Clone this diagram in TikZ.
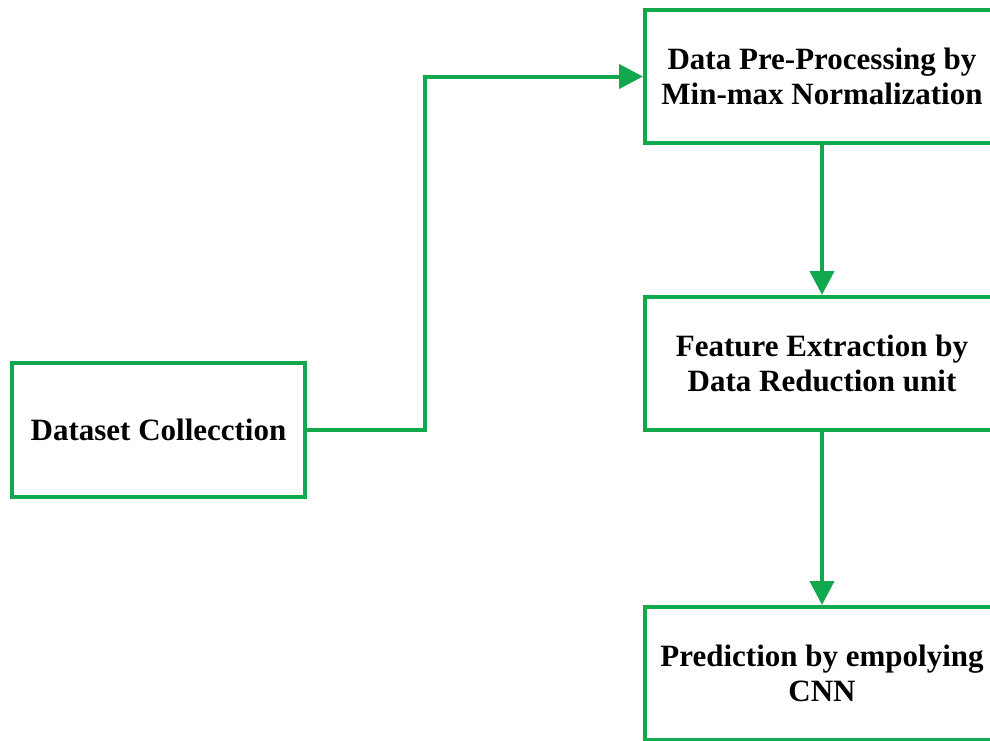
\documentclass[tikz,border=0pt]{standalone}
\usepackage{fontspec}
\setmainfont{Liberation Serif}
\usepackage{tikz}
\usetikzlibrary{arrows.meta,positioning}
\definecolor{boxgreen}{RGB}{18,168,78}

\begin{document}
\begin{tikzpicture}[
    x=1pt, y=-1pt,
    stage/.style={rectangle, draw=boxgreen, line width=4pt, fill=white, align=center, inner sep=0pt,
        font=\fontsize{31}{35}\selectfont\bfseries},
    arrow/.style={draw=boxgreen, line width=4pt, -{Triangle[length=24pt,width=24pt]}}
]
\useasboundingbox (0,0) rectangle (990,740);
\clip (0,0) rectangle (990,740);

% Input
\node[stage, minimum width=293pt, minimum height=134pt] (dataset) at (158.5, 430) {Dataset Collecction};

% Processing steps
\node[stage, minimum width=354pt, minimum height=133pt] (preproc) at (822, 76.5) {Data Pre-Processing by \\ Min-max Normalization};
\node[stage, minimum width=354pt, minimum height=133pt] (feature) at (822, 363.5) {Feature Extraction by \\ Data Reduction unit};
\node[stage, minimum width=354pt, minimum height=133pt] (predict) at (822, 673.5) {Prediction by empolying \\ CNN};

% Connections
\draw[arrow] (dataset.east) -- ++(118,0) |- (preproc.west);
\draw[arrow] (preproc.south) -- (feature.north);
\draw[arrow] (feature.south) -- (predict.north);

\end{tikzpicture}
\end{document}
